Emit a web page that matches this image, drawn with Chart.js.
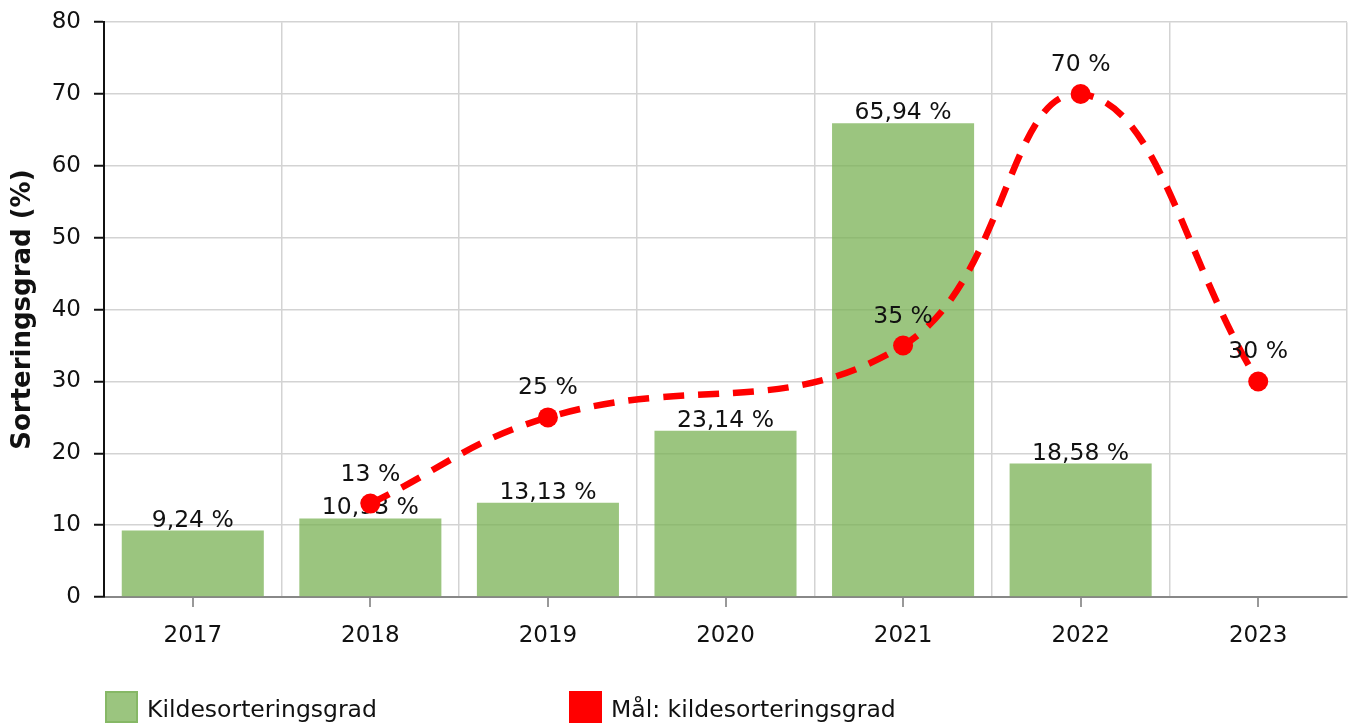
<!DOCTYPE html>
<html><head><meta charset="utf-8">
<script src="https://cdn.jsdelivr.net/npm/chart.js@4/dist/chart.umd.min.js"></script>
<style>html,body{margin:0;padding:0;background:#fff;overflow:hidden;}#wrap{width:1351px;height:724px;position:relative;}</style>
</head><body><div id="wrap"><canvas id="c" width="1351" height="724"></canvas></div>
<script>
const categories = ['2017', '2018', '2019', '2020', '2021', '2022', '2023'];
const sortingRate = [9.24, 10.93, 13.13, 23.14, 65.94, 18.58, null];
const targetRate = [null, 13, 25, null, 35, 70, 30];
const seriesNames = ['Kildesorteringsgrad', 'Mål: kildesorteringsgrad'];
const yAxisTitle = 'Sorteringsgrad (%)';
const yMin = 0, yMax = 80, yStep = 10;

const FONT = '"DejaVu Sans", Verdana, sans-serif';
const BAR_FILL = 'rgba(122,178,84,0.75)';

function fmt(v) {
  const s = Number.isInteger(v) ? String(v) : v.toFixed(2);
  return s.replace('.', ',') + ' %';
}

const labelPlugin = {
  id: 'valueLabels',
  afterDatasetDraw(chart, args) {
    const ds = chart.data.datasets[args.index];
    const meta = args.meta;
    const ctx = chart.ctx;
    ctx.save();
    ctx.font = '23.5px ' + FONT;
    ctx.fillStyle = '#111';
    ctx.textAlign = 'center';
    ctx.textBaseline = 'alphabetic';
    meta.data.forEach((el, i) => {
      const v = ds.data[i];
      if (v == null) return;
      const off = ds.type === 'line' ? 23 : 4;
      ctx.fillText(fmt(v), el.x, el.y - off);
    });
    ctx.restore();
  }
};

const centerTicks = {
  id: 'centerTicks',
  afterDraw(chart) {
    const xs = chart.scales.x;
    const ctx = chart.ctx;
    ctx.save();
    ctx.strokeStyle = '#999';
    ctx.lineWidth = 2;
    categories.forEach((c, i) => {
      const x = Math.round(xs.getPixelForValue(i));
      ctx.beginPath();
      ctx.moveTo(x, xs.top + 1);
      ctx.lineTo(x, xs.top + 10);
      ctx.stroke();
    });
    ctx.restore();
  }
};

const legendPlugin = {
  id: 'customLegend',
  afterDraw(chart) {
    const ctx = chart.ctx;
    const items = [
      {x: 105, fill: BAR_FILL, stroke: '#86b866'},
      {x: 569, fill: '#ff0000', stroke: '#ff0000'}
    ];
    ctx.save();
    ctx.font = '23.5px ' + FONT;
    ctx.textBaseline = 'alphabetic';
    ctx.textAlign = 'left';
    items.forEach((it, i) => {
      ctx.fillStyle = it.fill;
      ctx.fillRect(it.x, 691, 33, 32);
      ctx.strokeStyle = it.stroke;
      ctx.lineWidth = 2;
      ctx.strokeRect(it.x + 1, 692, 31, 30);
      ctx.fillStyle = '#111';
      ctx.fillText(chart.data.datasets[i].label, it.x + 42, 717);
    });
    ctx.restore();
  }
};

new Chart(document.getElementById('c'), {
  data: {
    labels: categories,
    datasets: [
      {
        type: 'bar',
        label: seriesNames[0],
        data: sortingRate,
        backgroundColor: BAR_FILL,
        borderWidth: 0,
        barPercentage: 0.8,
        categoryPercentage: 1.0,
        order: 2
      },
      {
        type: 'line',
        label: seriesNames[1],
        data: targetRate,
        borderColor: '#ff0000',
        backgroundColor: '#ff0000',
        borderWidth: 6.5,
        borderDash: [21, 14],
        tension: 0.42,
        spanGaps: true,
        pointRadius: 10,
        pointBorderWidth: 0,
        pointHoverRadius: 10,
        pointBackgroundColor: '#ff0000',
        fill: false,
        order: 1
      }
    ]
  },
  options: {
    responsive: false,
    animation: false,
    events: [],
    layout: {autoPadding: false, padding: {top: 20, right: 4, bottom: 72, left: 0}},
    plugins: {legend: {display: false}, tooltip: {enabled: false}, title: {display: false}},
    scales: {
      x: {
        offset: true,
        grid: {offset: true, color: '#d3d3d3', lineWidth: 1.5, drawTicks: false},
        border: {color: '#888', width: 2},
        ticks: {color: '#111', font: {family: FONT, size: 23}, padding: 25, maxRotation: 0},
        afterFit(s) { s.height = 55; }
      },
      y: {
        min: yMin, max: yMax,
        ticks: {stepSize: yStep, color: '#111', font: {family: FONT, size: 23, lineHeight: 0.8}, padding: 13},
        grid: {color: '#d3d3d3', lineWidth: 1.5, tickColor: '#111', tickLength: 10, tickWidth: 2},
        border: {color: '#111', width: 2},
        title: {display: true, text: yAxisTitle, color: '#111', font: {family: FONT, size: 26, weight: 'bold'}, padding: {top: 8, bottom: 0}},
        afterFit(s) { s.width = 104; }
      }
    }
  },
  plugins: [labelPlugin, centerTicks, legendPlugin]
});
</script></body></html>
